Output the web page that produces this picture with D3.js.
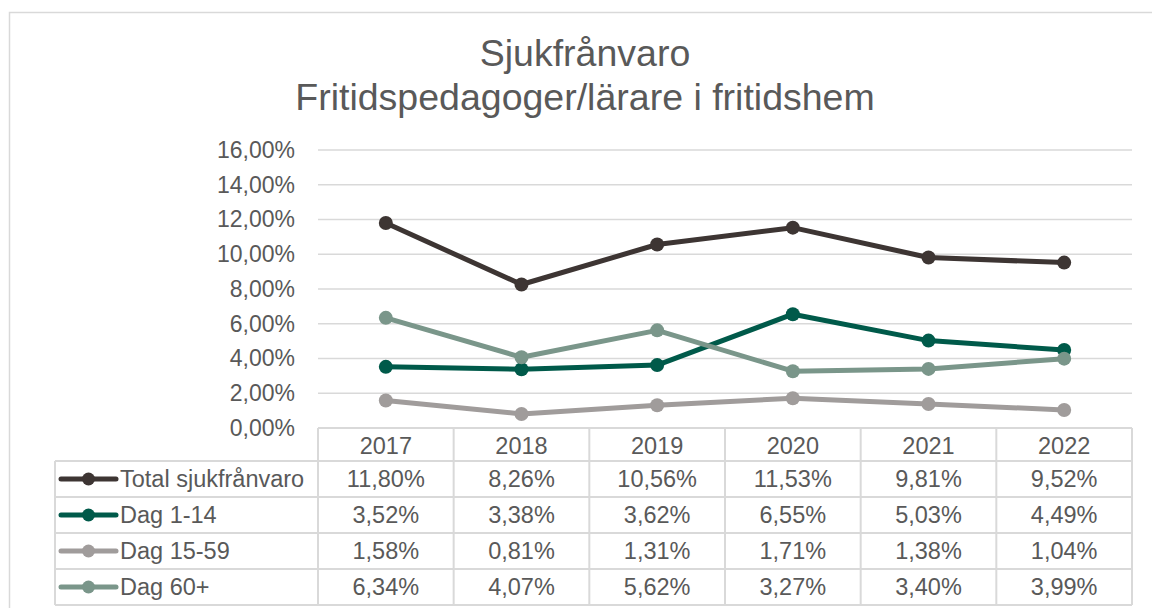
<!DOCTYPE html>
<html>
<head>
<meta charset="utf-8">
<script src="https://cdn.jsdelivr.net/npm/d3@7"></script>
<style>
  body { margin: 0; background: #fff; }
  text { font-family: "Liberation Sans", Arial, sans-serif; fill: #595959; }
</style>
</head>
<body>
<div id="chart"></div>
<script>
var years = ["2017", "2018", "2019", "2020", "2021", "2022"];
var seriesNames = ["Total sjukfrånvaro", "Dag 1-14", "Dag 15-59", "Dag 60+"];
var totalValues = [11.80, 8.26, 10.56, 11.53, 9.81, 9.52];
var dag1to14 = [3.52, 3.38, 3.62, 6.55, 5.03, 4.49];
var dag15to59 = [1.58, 0.81, 1.31, 1.71, 1.38, 1.04];
var dag60plus = [6.34, 4.07, 5.62, 3.27, 3.40, 3.99];
var yTicks = [0, 2, 4, 6, 8, 10, 12, 14, 16];
var colors = ["#3d3533", "#005a4a", "#a09c9b", "#7a968a"];

var allValues = [totalValues, dag1to14, dag15to59, dag60plus];

var width = 1152, height = 608;
var plot = { left: 318, right: 1132, top: 150, bottom: 428 };
var headH = 33, rowH = 36;
var fontPx = "23.5px";

var svg = d3.select("#chart")
    .append("svg")
    .attr("width", width)
    .attr("height", height);

// outer chart border
svg.append("rect")
    .attr("x", 9.5)
    .attr("y", 12.5)
    .attr("width", 1160)
    .attr("height", 640)
    .attr("fill", "none")
    .attr("stroke", "#d9d9d9")
    .attr("stroke-width", 1.5);

// title
svg.append("text")
    .attr("x", 585)
    .attr("y", 66)
    .attr("text-anchor", "middle")
    .style("font-size", "37.5px")
    .text("Sjukfrånvaro");
svg.append("text")
    .attr("x", 585)
    .attr("y", 110)
    .attr("text-anchor", "middle")
    .style("font-size", "37.5px")
    .text("Fritidspedagoger/lärare i fritidshem");

var x = d3.scaleBand()
    .domain(years)
    .range([plot.left, plot.right]);

var y = d3.scaleLinear()
    .domain([0, 16])
    .range([plot.bottom, plot.top]);

// gridlines
svg.append("g")
    .selectAll("line")
    .data(yTicks.slice(1))
    .enter()
    .append("line")
    .attr("x1", plot.left)
    .attr("x2", plot.right)
    .attr("y1", function (d) { return y(d); })
    .attr("y2", function (d) { return y(d); })
    .attr("stroke", "#d9d9d9")
    .attr("stroke-width", 1.5);

// y axis labels
var yAxis = svg.append("g")
    .attr("transform", "translate(" + plot.left + ",0)")
    .call(d3.axisLeft(y)
        .tickValues(yTicks)
        .tickSize(0)
        .tickPadding(23)
        .tickFormat(function (d) { return d3.format(".2f")(d).replace(".", ",") + "%"; }));
yAxis.select(".domain").remove();
yAxis.selectAll("text")
    .style("font-size", "23px")
    .attr("fill", "#595959")
    .style("font-family", "'Liberation Sans', Arial, sans-serif");

// data table grid
var tableColor = "#d9d9d9";
var tableTop = plot.bottom;
var rowTop = function (i) { return tableTop + headH + rowH * i; };
var tableBottom = rowTop(seriesNames.length);
var legendLeft = 55;

var grid = svg.append("g")
    .attr("stroke", tableColor)
    .attr("stroke-width", 2);

// horizontal lines
grid.append("line")
    .attr("x1", plot.left).attr("x2", plot.right)
    .attr("y1", tableTop).attr("y2", tableTop);
d3.range(seriesNames.length + 1).forEach(function (i) {
    var yy = rowTop(i);
    grid.append("line")
        .attr("x1", legendLeft).attr("x2", plot.right)
        .attr("y1", yy).attr("y2", yy);
});
// vertical lines
years.forEach(function (yr) {
    grid.append("line")
        .attr("x1", x(yr)).attr("x2", x(yr))
        .attr("y1", tableTop).attr("y2", tableBottom);
});
grid.append("line")
    .attr("x1", plot.right).attr("x2", plot.right)
    .attr("y1", tableTop).attr("y2", tableBottom);
grid.append("line")
    .attr("x1", legendLeft).attr("x2", legendLeft)
    .attr("y1", rowTop(0)).attr("y2", tableBottom);

// header years
svg.append("g")
    .selectAll("text")
    .data(years)
    .enter()
    .append("text")
    .attr("x", function (d) { return x(d) + x.bandwidth() / 2; })
    .attr("y", tableTop + headH / 2 + 1)
    .attr("dy", "0.36em")
    .attr("text-anchor", "middle")
    .style("font-size", fontPx)
    .text(function (d) { return d; });

// table rows
var fmt = function (v) { return d3.format(".2f")(v).replace(".", ",") + "%"; };
seriesNames.forEach(function (name, i) {
    var rowY = rowTop(i) + rowH / 2;
    var row = svg.append("g");
    row.selectAll("text")
        .data(allValues[i])
        .enter()
        .append("text")
        .attr("x", function (d, j) { return x(years[j]) + x.bandwidth() / 2; })
        .attr("y", rowY)
        .attr("dy", "0.36em")
        .attr("text-anchor", "middle")
        .style("font-size", fontPx)
        .text(fmt);

    // legend key
    row.append("line")
        .attr("x1", 61).attr("x2", 116)
        .attr("y1", rowY).attr("y2", rowY)
        .attr("stroke", colors[i])
        .attr("stroke-width", 5)
        .attr("stroke-linecap", "round");
    row.append("circle")
        .attr("cx", 88.5).attr("cy", rowY)
        .attr("r", 6.5)
        .attr("fill", colors[i]);
    row.append("text")
        .attr("x", 120)
        .attr("y", rowY)
        .attr("dy", "0.36em")
        .style("font-size", fontPx)
        .text(name);
});

// lines + markers
var line = d3.line()
    .x(function (d, j) { return x(years[j]) + x.bandwidth() / 2; })
    .y(function (d) { return y(d); });

allValues.forEach(function (vals, i) {
    var g = svg.append("g");
    g.append("path")
        .datum(vals)
        .attr("fill", "none")
        .attr("stroke", colors[i])
        .attr("stroke-width", 5)
        .attr("stroke-linejoin", "round")
        .attr("d", line);
    g.selectAll("circle")
        .data(vals)
        .enter()
        .append("circle")
        .attr("cx", function (d, j) { return x(years[j]) + x.bandwidth() / 2; })
        .attr("cy", function (d) { return y(d); })
        .attr("r", 7)
        .attr("fill", colors[i]);
});
</script>
</body>
</html>
